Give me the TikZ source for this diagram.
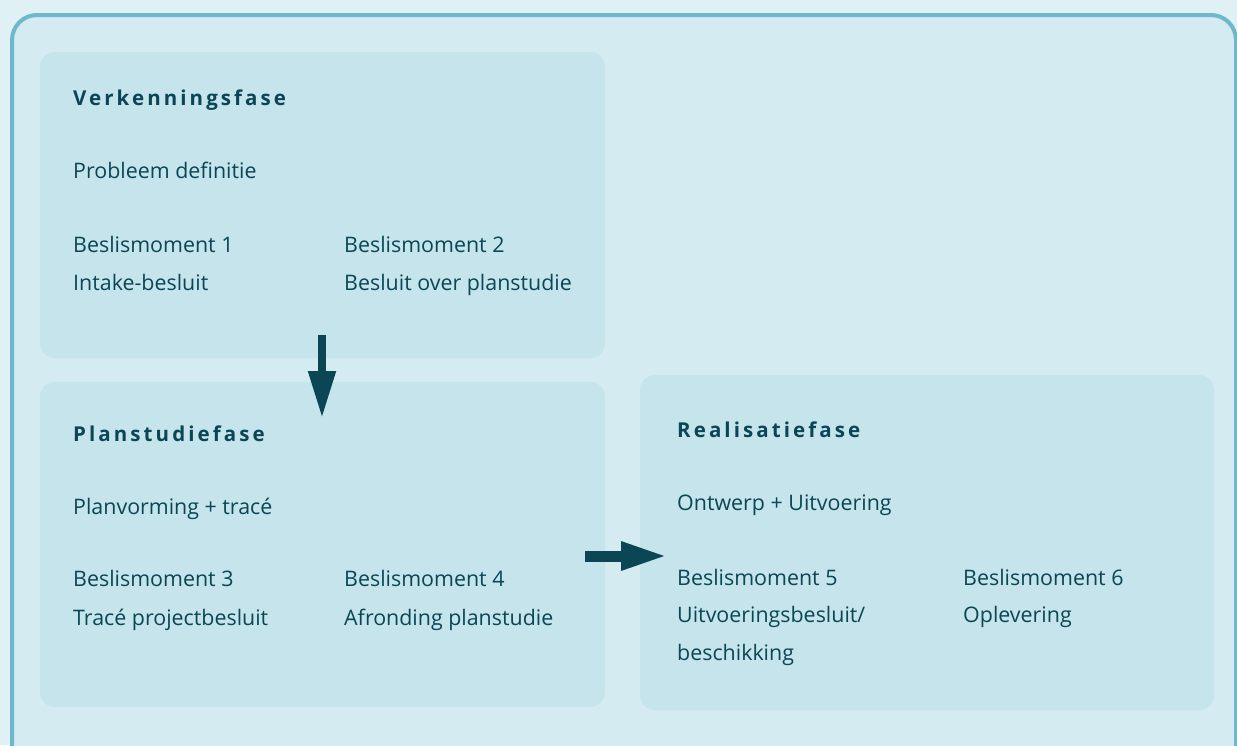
\documentclass[tikz,border=0pt]{standalone}
\usepackage{fontspec}
\setmainfont{Open Sans}
\usetikzlibrary{arrows.meta}
\definecolor{bgout}{HTML}{E0F1F5}
\definecolor{bgin}{HTML}{D3EBF1}
\definecolor{frame}{HTML}{6DB8CC}
\definecolor{boxfill}{HTML}{C5E4EC}
\definecolor{ink}{HTML}{0B4655}
\begin{document}
\begin{tikzpicture}[x=1pt,y=-1pt,
  phase/.style={draw=none,fill=boxfill,rounded corners=15pt},
  ttl/.style={anchor=base west,inner sep=0pt,text=ink,font=\fontsize{20.5}{24}\selectfont\bfseries\addfontfeatures{LetterSpace=15}},
  txt/.style={anchor=base west,inner sep=0pt,text=ink,font=\fontsize{21.4}{25}\selectfont},
  bigarrow/.style={draw=ink,-{Triangle[width=26pt,length=47pt]}}]
\useasboundingbox (0,0) rectangle (1237,745);
\fill[bgout] (0,0) rectangle (1237,745);
\draw[frame,line width=4pt,fill=bgin,rounded corners=25pt] (12,15) rectangle (1236,790);
% boxes
\path[phase] (40,52) rectangle (605,358);
\path[phase] (40,382) rectangle (605,707);
\path[phase] (640,375) rectangle (1214,710);
% box 1
\node[ttl] (t1) at (73,105) {Verkenningsfase};
\node[txt] (p1) at (73,178) {Probleem definitie};
\node[txt] (m1) at (73,252) {Beslismoment 1};
\node[txt] (d1) at (73,290) {Intake-besluit};
\node[txt] (m2) at (344,252) {Beslismoment 2};
\node[txt] (d2) at (344,290) {Besluit over planstudie};
% box 2
\node[ttl] (t2) at (73,441) {Planstudiefase};
\node[txt] (p2) at (73,514) {Planvorming + tracé};
\node[txt] (m3) at (73,586) {Beslismoment 3};
\node[txt] (d3) at (73,625) {Tracé projectbesluit};
\node[txt] (m4) at (344,586) {Beslismoment 4};
\node[txt] (d4) at (344,625) {Afronding planstudie};
% box 3
\node[ttl] (t3) at (677,437) {Realisatiefase};
\node[txt] (p3) at (677,510) {Ontwerp + Uitvoering};
\node[txt] (m5) at (677,585) {Beslismoment 5};
\node[txt] (d5) at (677,622) {Uitvoeringsbesluit/};
\node[txt] (d5b) at (677,660) {beschikking};
\node[txt] (m6) at (963,585) {Beslismoment 6};
\node[txt] (d6) at (963,622) {Oplevering};
% arrows
\coordinate (a1s) at (322,335);
\coordinate (a1e) at (322,418);
\coordinate (a2s) at (585,556);
\coordinate (a2e) at (668,556);
\draw[bigarrow,line width=8pt] (a1s) -- (a1e);
\draw[bigarrow,line width=11pt] (a2s) -- (a2e);
\end{tikzpicture}
\end{document}
